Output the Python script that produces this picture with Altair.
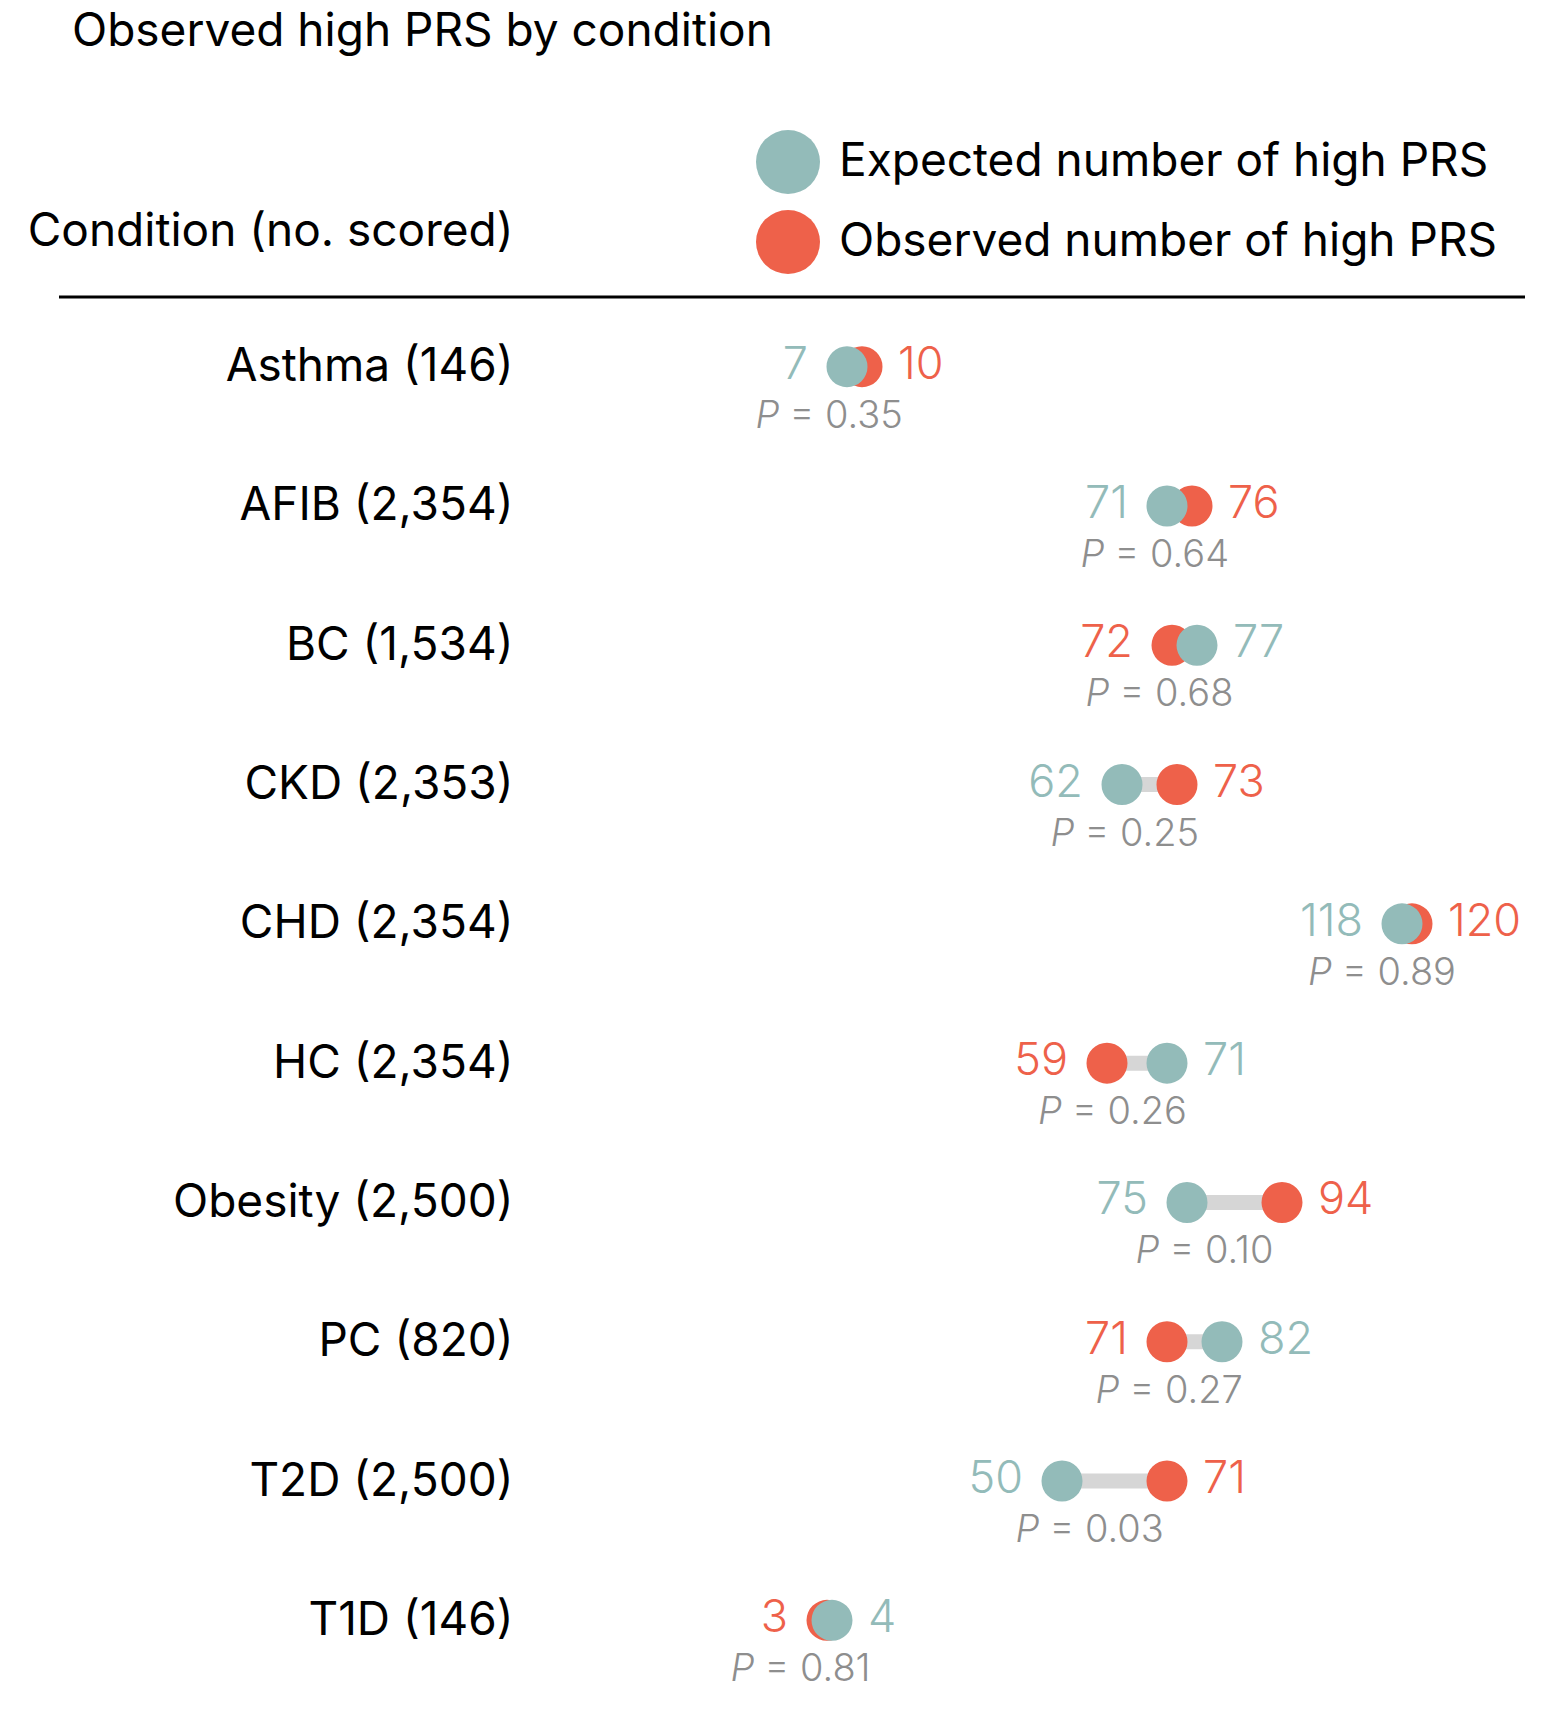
import altair as alt
import pandas as pd

# ---------------- data ----------------
conditions = ["Asthma (146)", "AFIB (2,354)", "BC (1,534)", "CKD (2,353)", "CHD (2,354)",
              "HC (2,354)", "Obesity (2,500)", "PC (820)", "T2D (2,500)", "T1D (146)"]
expected = [7, 71, 77, 62, 118, 71, 75, 82, 50, 4]
observed = [10, 76, 72, 73, 120, 59, 94, 71, 71, 3]
p_values = ["0.35", "0.64", "0.68", "0.25", "0.89", "0.26", "0.10", "0.27", "0.03", "0.81"]

EXP = "Expected number of high PRS"
OBS = "Observed number of high PRS"
TITLE = "Observed high PRS by condition"
YTITLE = "Condition (no. scored)"

TEAL = "#93bbb9"
RED = "#ee614a"
GRAY_LINE = "#d6d6d6"
GRAY_TEXT = "#8e8e8e"
FONT = "Inter"

wide = pd.DataFrame({"condition": conditions, "expected": expected,
                     "observed": observed, "p": p_values})
wide["mid"] = (wide["expected"] + wide["observed"]) / 2
wide["ptext"] = "= " + wide["p"]
wide["pletter"] = "P"

rows = []
for series, col in [(OBS, "observed"), (EXP, "expected")]:
    for _, r in wide.iterrows():
        v = r[col]
        side = "left" if v == min(r["expected"], r["observed"]) else "right"
        rows.append({"condition": r["condition"], "series": series, "value": v,
                     "label": str(v), "side": side})
long = pd.DataFrame(rows)

xscale = alt.Scale(domain=[-54.4, 143.6], nice=False, zero=False)
yscale = alt.Scale(type="point", padding=0.5)
yenc = alt.Y("condition:N", sort=conditions, scale=yscale,
             axis=alt.Axis(title=YTITLE, domain=False, ticks=False, grid=False,
                           labelFont=FONT, labelFontSize=46, labelColor="#000000",
                           labelPadding=27, labelAlign="right", labelLimit=0,
                           titleFont=FONT, titleFontSize=46, titleFontWeight="normal",
                           titleColor="#000000", titleAngle=0, titleAlign="right",
                           titleBaseline="middle", titleX=-27, titleY=-66))
ypos = alt.Y("condition:N", sort=conditions, scale=yscale)

text_color = alt.when(alt.datum.series == EXP).then(alt.value(TEAL)).otherwise(alt.value(RED))

base_wide = alt.Chart(wide)
base_long = alt.Chart(long)

connector = base_wide.mark_rule(color=GRAY_LINE, strokeWidth=15).encode(
    x=alt.X("expected:Q", scale=xscale, axis=None),
    x2="observed:Q",
    y=yenc,
)

dots = base_long.mark_point(filled=True, opacity=1, size=1681, shape="circle").encode(
    x=alt.X("value:Q", scale=xscale, axis=None),
    y=ypos,
    color=alt.Color("series:N", scale=alt.Scale(domain=[EXP, OBS], range=[TEAL, RED]),
                    legend=alt.Legend(title=None, orient="none", legendX=216, legendY=-167,
                                      symbolType="circle", symbolSize=4096,
                                      symbolStrokeWidth=0, labelFont=FONT, labelFontSize=46,
                                      labelColor="#000000", labelOffset=19, rowPadding=16,
                                      padding=0, labelLimit=0)),
    order=alt.Order("series:N", sort="descending"),
)

left_txt = base_long.transform_filter(alt.datum.side == "left").mark_text(
    align="right", baseline="middle", dx=-39, dy=-2, font=FONT, fontSize=45, fontWeight=300
).encode(x=alt.X("value:Q", scale=xscale), y=ypos, text="label:N", color=text_color)

right_txt = base_long.transform_filter(alt.datum.side == "right").mark_text(
    align="left", baseline="middle", dx=36, dy=-2, font=FONT, fontSize=45, fontWeight=300
).encode(x=alt.X("value:Q", scale=xscale), y=ypos, text="label:N", color=text_color)

p_letter = base_wide.mark_text(
    align="left", baseline="middle", dx=-99, dy=50, font=FONT, fontSize=38,
    fontStyle="italic", fontWeight=300, color=GRAY_TEXT
).encode(x=alt.X("mid:Q", scale=xscale), y=ypos, text="pletter:N")

p_rest = base_wide.mark_text(
    align="left", baseline="middle", dx=-65, dy=50, font=FONT, fontSize=38,
    fontWeight=300, color=GRAY_TEXT
).encode(x=alt.X("mid:Q", scale=xscale), y=ypos, text="ptext:N")

header_rule = alt.Chart(pd.DataFrame({"k": [0]})).mark_rule(color="#000000", strokeWidth=3).encode(
    x=alt.value(-481), x2=alt.value(985), y=alt.value(0))

title_txt = alt.Chart(pd.DataFrame({"t": [TITLE]})).mark_text(
    align="left", baseline="alphabetic", font=FONT, fontSize=46, color="#000000"
).encode(text="t:N", x=alt.value(-468), y=alt.value(-251))

chart = alt.layer(
    header_rule, title_txt, connector, dots, left_txt, right_txt, p_letter, p_rest
).properties(
    width=990, height=1393,
    autosize=alt.AutoSizeParams(type="none"),
    padding={"left": 532, "top": 289, "right": 30, "bottom": 20},
    background="white",
).configure_view(stroke=None)

chart.save("out.html", embed_options={"renderer": "svg", "actions": False})
